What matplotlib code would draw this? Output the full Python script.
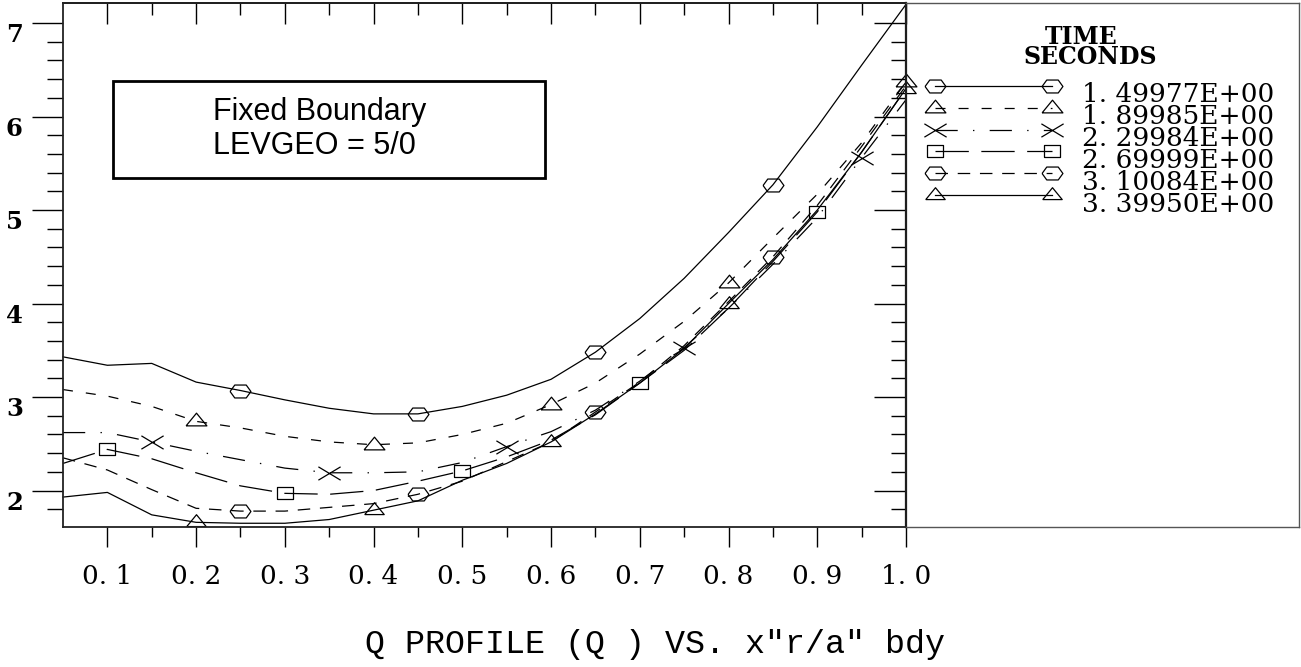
import matplotlib
matplotlib.use("Agg")
import matplotlib.pyplot as plt
from matplotlib.path import Path
from matplotlib.patches import Rectangle
import numpy as np

plt.rcParams['lines.scale_dashes'] = False

# r/a grid and q profiles
x = [0.05, 0.10, 0.15, 0.20, 0.25, 0.30, 0.35, 0.40, 0.45, 0.50,
     0.55, 0.60, 0.65, 0.70, 0.75, 0.80, 0.85, 0.90, 0.95, 1.00]
q1 = [3.43, 3.34, 3.36, 3.16, 3.07, 2.97, 2.88, 2.82, 2.82, 2.90,
      3.02, 3.19, 3.48, 3.84, 4.27, 4.76, 5.27, 5.89, 6.55, 7.20]
q2 = [3.08, 3.01, 2.90, 2.74, 2.67, 2.58, 2.52, 2.49, 2.51, 2.60,
      2.72, 2.92, 3.15, 3.46, 3.81, 4.22, 4.70, 5.17, 5.72, 6.37]
q3 = [2.62, 2.62, 2.52, 2.42, 2.33, 2.24, 2.19, 2.19, 2.20, 2.30,
      2.47, 2.63, 2.86, 3.17, 3.53, 3.95, 4.42, 4.92, 5.56, 6.18]
q4 = [2.29, 2.44, 2.34, 2.19, 2.05, 1.97, 1.96, 2.00, 2.10, 2.21,
      2.36, 2.54, 2.81, 3.15, 3.50, 3.95, 4.45, 4.98, 5.62, 6.30]
q5 = [2.35, 2.22, 2.01, 1.81, 1.78, 1.78, 1.82, 1.86, 1.96, 2.10,
      2.31, 2.52, 2.84, 3.16, 3.55, 4.02, 4.50, 5.05, 5.68, 6.33]
q6 = [1.93, 1.98, 1.74, 1.66, 1.65, 1.65, 1.69, 1.79, 1.89, 2.11,
      2.29, 2.52, 2.82, 3.15, 3.52, 4.00, 4.47, 5.00, 5.62, 6.30]
times = ["1. 49977E+00", "1. 89985E+00", "2. 29984E+00",
         "2. 69999E+00", "3. 10084E+00", "3. 39950E+00"]

x_ticks = [0.1, 0.2, 0.3, 0.4, 0.5, 0.6, 0.7, 0.8, 0.9, 1.0]
x_ticklabels = ["0. 1", "0. 2", "0. 3", "0. 4", "0. 5",
                "0. 6", "0. 7", "0. 8", "0. 9", "1. 0"]
y_ticks = [2, 3, 4, 5, 6, 7]

# marker shapes (old plotting package look)
hexa = Path([(-1, 0), (-0.55, 0.62), (0.55, 0.62), (1, 0),
             (0.55, -0.62), (-0.55, -0.62), (-1, 0)])
tri = Path([(-1, -0.42), (1, -0.42), (0, 0.8), (-1, -0.42)])
cross = Path([(-1, -0.6), (1, 0.6), (-1, 0.6), (1, -0.6)],
             [Path.MOVETO, Path.LINETO, Path.MOVETO, Path.LINETO])
box = Path([(-1, -0.8), (1, -0.8), (1, 0.8), (-1, 0.8), (-1, -0.8)])

series = [q1, q2, q3, q4, q5, q6]
markers = [hexa, tri, cross, box, hexa, tri]
msizes = [15, 15, 16, 11, 15, 14]
dashes = [None, (7.2, 9.4), (16, 11, 1, 11), (24, 9), (9, 7), None]
mark_start = [4, 3, 2, 1, 4, 3]

fig = plt.figure(figsize=(13.01, 6.67), dpi=100)
W, H = 1301, 667
ax = fig.add_axes([63 / W, 140 / H, 843 / W, 524 / H])

for q, m, ms, d, st in zip(series, markers, msizes, dashes, mark_start):
    line, = ax.plot(x, q, color='black', lw=0.9, marker=m, ms=ms,
                    mfc='none', mec='black', mew=0.9,
                    markevery=(st, 4), clip_on=False)
    if d is not None:
        line.set_dashes(d)

ax.set_xlim(0.05, 1.0)
ax.set_ylim(1.61, 7.215)

for s in ax.spines.values():
    s.set_linewidth(1.3)
    s.set_color('#222222')

minor_y = [v for v in np.arange(1.8, 7.2, 0.2) if abs(v - round(v)) > 0.01]
ax.set_xticks(x_ticks, x_ticklabels)
ax.set_xticks(np.arange(0.15, 1.0, 0.1), minor=True)
ax.set_yticks(y_ticks, [str(v) for v in y_ticks])
ax.set_yticks(minor_y, minor=True)

ax.tick_params(axis='x', which='major', direction='out', length=14.5, width=1,
               pad=12, top=False, labelsize=19)
ax.tick_params(axis='x', which='minor', direction='out', length=7.2, width=1, top=False)
ax.tick_params(axis='y', which='major', direction='out', length=22, width=1,
               pad=7, right=False, labelsize=17.5)
ax.tick_params(axis='y', which='minor', direction='out', length=11.5, width=1, right=False)
for t in ax.get_xticklabels():
    t.set_fontfamily('DejaVu Serif')
for t in ax.get_yticklabels():
    t.set_fontfamily('DejaVu Serif')
    t.set_fontweight('bold')
    t.set_verticalalignment('top')

top = ax.secondary_xaxis('top')
top.set_xticks(x_ticks)
top.set_xticks(np.arange(0.15, 1.0, 0.1), minor=True)
top.tick_params(which='major', direction='in', length=15, width=1, labeltop=False)
top.tick_params(which='minor', direction='in', length=8.5, width=1)
top.spines['top'].set_linewidth(1.3)

right = ax.secondary_yaxis('right')
right.set_yticks(y_ticks)
right.set_yticks(minor_y, minor=True)
right.tick_params(which='major', direction='in', length=23, width=1, labelright=False)
right.tick_params(which='minor', direction='in', length=11, width=1)
right.spines['right'].set_linewidth(1.6)

# annotation box
fig.patches.append(Rectangle((113 / W, 1 - 178 / H), 432 / W, 97 / H,
                             transform=fig.transFigure, fill=False, lw=2, ec='black'))
fig.text(213 / W, 1 - 129 / H, "Fixed Boundary\nLEVGEO = 5/0", ha='left', va='center',
         fontsize=22, family='Liberation Sans', linespacing=1.15)

fig.text(945 / W, 1 - 645 / H, 'Q PROFILE (Q ) VS. x"r/a" bdy', ha='right', va='center',
         fontsize=24, family='Liberation Mono')

# legend panel, coordinates in pixels from its top-left corner
la = fig.add_axes([906 / W, 140 / H, 393 / W, 524 / H])
la.set_xlim(0, 393)
la.set_ylim(524, 0)
la.set_xticks([])
la.set_yticks([])
for s in la.spines.values():
    s.set_linewidth(1)
    s.set_color('#555555')
la.spines['left'].set_visible(False)
la.patch.set_alpha(0)

la.text(175, 34, "TIME", ha='center', va='center', fontsize=17,
        family='DejaVu Serif', fontweight='bold')
la.text(184, 54, "SECONDS", ha='center', va='center', fontsize=17,
        family='DejaVu Serif', fontweight='bold')
for i, (lab, m, ms, d) in enumerate(zip(times, markers, msizes, dashes)):
    yy = 83 + i * 21.8
    line, = la.plot([29, 146], [yy, yy], color='black', lw=0.9, marker=m, ms=ms,
                    mfc='none', mec='black', mew=0.9, clip_on=False)
    if d is not None:
        line.set_dashes(d)
    la.text(176, yy + 9, lab, ha='left', va='center', fontsize=19, family='DejaVu Serif')

fig.savefig("out.png", dpi=100)
